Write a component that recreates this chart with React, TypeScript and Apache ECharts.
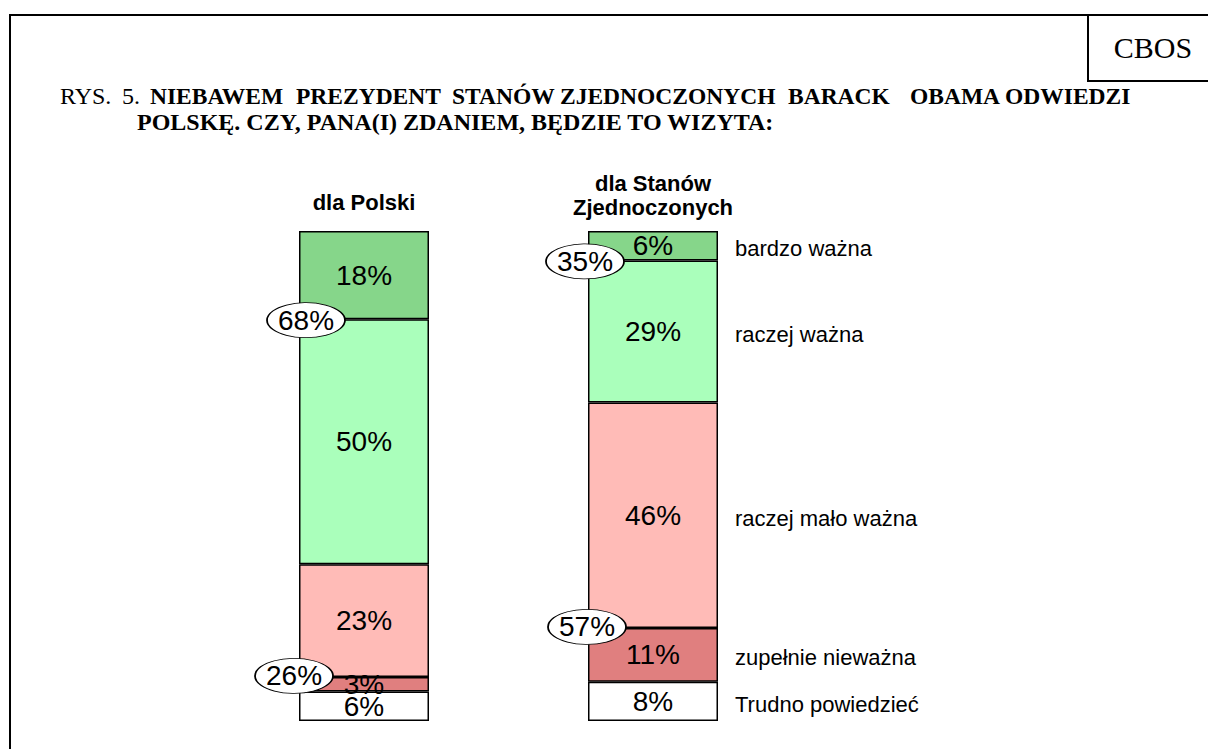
import React, { useEffect, useRef } from "react";
import * as echarts from "echarts";

// ---- data ----
const categories = ["dla Polski", "dla Stanów\nZjednoczonych"];
const bardzoWazna = [18, 6];
const raczejWazna = [50, 29];
const raczejMaloWazna = [23, 46];
const zupelnieNiewazna = [3, 11];
const trudnoPowiedziec = [6, 8];
const sumaWazna = [68, 35];
const sumaNiewazna = [26, 57];
const seriesNames = [
  "Trudno powiedzieć",
  "zupełnie nieważna",
  "raczej mało ważna",
  "raczej ważna",
  "bardzo ważna",
];
const titleLine1Plain = ["RYS.", "5."];
const titleLine1Bold = ["NIEBAWEM", "PREZYDENT", "STANÓW", "ZJEDNOCZONYCH", "BARACK", "OBAMA", "ODWIEDZI"];
const titleLine2 = "POLSKĘ. CZY, PANA(I) ZDANIEM, BĘDZIE TO WIZYTA:";
const sourceLabel = "CBOS";

// ---- layout / style constants ----
const line1X = [60, 122, 150, 296, 452, 560, 788, 910, 1005];
const colors = ["#ffffff", "#e07f7f", "#ffbbb7", "#aaffbb", "#86d68a"];
const ovalOffsetsWazna = [-58, -68];
const ovalOffsetsNiewazna = [-70, -66];
const SANS = "'Liberation Sans', Arial, sans-serif";
const SERIF = "'Liberation Serif', 'Times New Roman', serif";

export default function App() {
  const ref = useRef<HTMLDivElement>(null);

  useEffect(() => {
    if (!ref.current) return;
    const chart = echarts.init(ref.current, undefined, { renderer: "svg" });

    const stacks = [trudnoPowiedziec, zupelnieNiewazna, raczejMaloWazna, raczejWazna, bardzoWazna];

    const barSeries = stacks.map((arr, k) => ({
      name: seriesNames[k],
      type: "bar",
      stack: "total",
      barWidth: 130,
      data: arr,
      itemStyle: { color: colors[k], borderColor: "#000", borderWidth: 1.5 },
      label: {
        show: true,
        position: "inside",
        formatter: (p: any) => p.value + "%",
        fontFamily: SANS,
        fontSize: 28,
        color: "#000",
      },
      z: 2,
    }));

    // cumulative midpoints of US bar for right-side labels
    const usIdx = 1;
    let acc = 0;
    const rightLabelData = stacks.map((arr, k) => {
      const mid = acc + arr[usIdx] / 2;
      acc += arr[usIdx];
      return { value: [usIdx, mid], name: seriesNames[k] };
    });

    const ovalData: any[] = [];
    categories.forEach((_, i) => {
      ovalData.push({
        value: [i, 100 - bardzoWazna[i]],
        label: { formatter: sumaWazna[i] + "%" },
        symbolOffset: [ovalOffsetsWazna[i], 1],
      });
      ovalData.push({
        value: [i, trudnoPowiedziec[i] + zupelnieNiewazna[i]],
        label: { formatter: sumaNiewazna[i] + "%" },
        symbolOffset: [ovalOffsetsNiewazna[i], -1],
      });
    });

    const graphics: any[] = [
      {
        type: "rect",
        shape: { x: 10, y: 15, width: 1260, height: 800 },
        style: { fill: "none", stroke: "#000", lineWidth: 2 },
        silent: true,
      },
      {
        type: "polyline",
        shape: { points: [[1088, 15], [1088, 81], [1210, 81]] },
        style: { fill: "none", stroke: "#000", lineWidth: 2 },
      },
      {
        type: "text",
        x: 1153,
        y: 47,
        style: { text: sourceLabel, fontFamily: SERIF, fontSize: 30, fill: "#000", align: "center", verticalAlign: "middle" },
      },
    ];
    const words = [...titleLine1Plain, ...titleLine1Bold];
    words.forEach((w, i) => {
      graphics.push({
        type: "text",
        x: line1X[i],
        y: 96,
        style: {
          text: w,
          fontFamily: SERIF,
          fontSize: i < titleLine1Plain.length ? 24 : 23.5,
          fontWeight: i < titleLine1Plain.length ? "normal" : "bold",
          fill: "#000",
          align: "left",
          verticalAlign: "middle",
        },
      });
    });
    graphics.push({
      type: "text",
      x: 137,
      y: 122,
      style: {
        text: titleLine2,
        fontFamily: SERIF,
        fontSize: 24,
        fontWeight: "bold",
        fill: "#000",
        align: "left",
        verticalAlign: "middle",
      },
    });

    chart.setOption({
      animation: false,
      backgroundColor: "#fff",
      textStyle: { fontFamily: SANS },
      grid: { left: 219.5, top: 231, width: 578, height: 490 },
      xAxis: {
        type: "category",
        position: "top",
        data: categories,
        axisLine: { show: false },
        axisTick: { show: false },
        axisLabel: {
          margin: 12,
          interval: 0,
          formatter: (v: string, i: number) => (i === 0 ? "{p|" + v + "}" : "{s|" + v.split("\n").join("}\n{s|") + "}"),
          rich: {
            p: { fontFamily: SANS, fontSize: 22, fontWeight: "bold", color: "#000", lineHeight: 24, padding: [0, 0, 10, 0] },
            s: { fontFamily: SANS, fontSize: 22, fontWeight: "bold", color: "#000", lineHeight: 24 },
          },
        },
      },
      yAxis: { type: "value", min: 0, max: 100, show: false },
      series: [
        ...barSeries,
        {
          type: "scatter",
          data: ovalData,
          symbol: "circle",
          symbolSize: [78, 35],
          itemStyle: { color: "#fff", borderColor: "#000", borderWidth: 1.2, opacity: 1 },
          label: {
            show: true,
            position: "inside",
            fontFamily: SANS,
            fontSize: 28,
            color: "#000",
          },
          z: 5,
        },
        {
          type: "scatter",
          data: rightLabelData,
          symbolSize: 0,
          itemStyle: { color: "transparent", opacity: 1 },
          label: {
            show: true,
            position: [82, 3],
            align: "left",
            verticalAlign: "middle",
            formatter: (p: any) => p.name,
            fontFamily: SANS,
            fontSize: 22,
            color: "#000",
          },
          z: 5,
        },
      ],
      graphic: graphics,
    });

    return () => chart.dispose();
  }, []);

  return (
    <div
      ref={ref}
      style={{ position: "absolute", left: 0, top: 0, width: 1208, height: 749, background: "#fff" }}
    />
  );
}
